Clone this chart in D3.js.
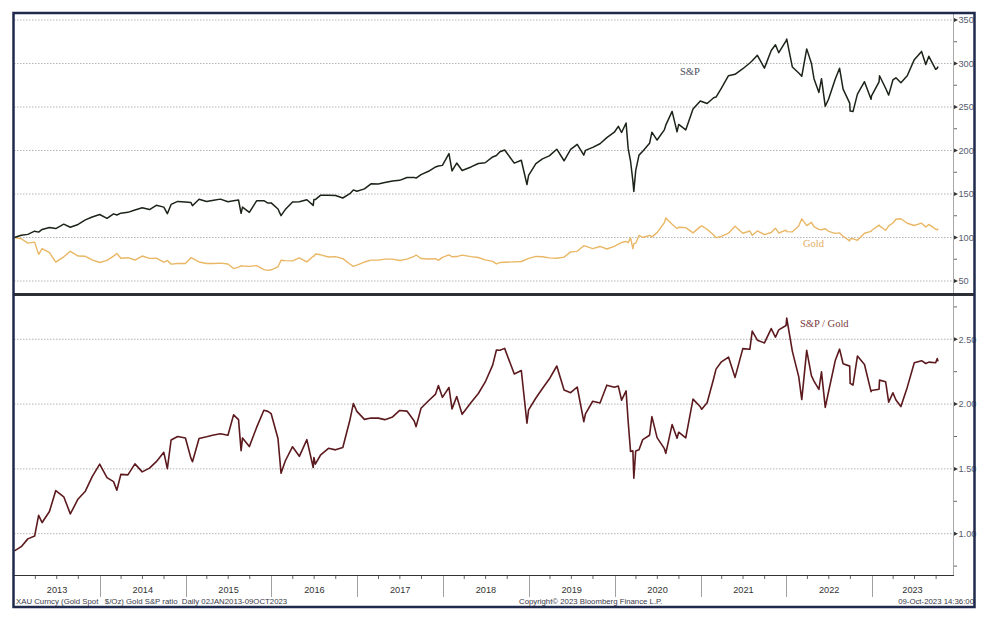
<!DOCTYPE html>
<html><head><meta charset="utf-8">
<script src="https://cdn.jsdelivr.net/npm/d3@7"></script>
<style>html,body{margin:0;padding:0;background:#fff;}svg{display:block;}</style>
</head><body>
<script>
const dates = [
"2013-01-02","2013-01-31","2013-02-28","2013-03-29","2013-04-15","2013-04-30","2013-05-31","2013-06-27","2013-07-31","2013-08-28","2013-09-30","2013-10-31","2013-11-29","2013-12-31",
"2014-01-31","2014-02-28","2014-03-14","2014-03-31","2014-04-30","2014-05-30","2014-06-30","2014-07-31","2014-08-29","2014-09-30","2014-10-15","2014-10-31","2014-11-28","2014-12-31",
"2015-01-23","2015-01-30","2015-02-27","2015-03-31","2015-04-30","2015-05-29","2015-06-30","2015-07-24","2015-08-14","2015-08-25","2015-08-31","2015-09-29","2015-10-30","2015-11-30","2015-12-17","2015-12-31",
"2016-01-29","2016-02-11","2016-02-29","2016-03-31","2016-04-29","2016-05-31","2016-06-27","2016-06-30","2016-07-06","2016-07-29","2016-08-31","2016-09-30","2016-10-31","2016-11-30","2016-12-15","2016-12-30",
"2017-01-31","2017-02-28","2017-03-31","2017-04-28","2017-05-31","2017-06-30","2017-07-31","2017-08-31","2017-09-08","2017-09-29","2017-10-31","2017-11-30","2017-12-12","2017-12-29",
"2018-01-26","2018-02-08","2018-02-28","2018-03-23","2018-04-30","2018-05-31","2018-06-29","2018-07-31","2018-08-16","2018-08-31","2018-09-20","2018-10-31","2018-11-30","2018-12-24","2018-12-31",
"2019-01-31","2019-02-28","2019-03-29","2019-04-30","2019-05-31","2019-06-28","2019-07-26","2019-08-23","2019-08-30","2019-09-30","2019-10-31","2019-11-29","2019-12-31",
"2020-01-17","2020-01-31","2020-02-19","2020-02-28","2020-03-09","2020-03-19","2020-03-23","2020-03-31","2020-04-14","2020-04-30","2020-05-29","2020-06-08","2020-06-30","2020-07-31","2020-08-06","2020-09-02","2020-09-23","2020-09-30","2020-10-30","2020-11-30","2020-12-31",
"2021-01-06","2021-01-29","2021-02-26","2021-03-08","2021-03-31","2021-04-30","2021-05-28","2021-06-30","2021-07-30","2021-08-09","2021-08-31","2021-09-30","2021-10-29","2021-11-16","2021-11-30","2021-12-31",
"2022-01-03","2022-01-27","2022-02-23","2022-03-08","2022-03-29","2022-04-18","2022-04-29","2022-05-20","2022-05-31","2022-06-16","2022-06-30","2022-07-29","2022-08-16","2022-08-31","2022-09-28","2022-09-30","2022-10-12","2022-10-31","2022-11-30","2022-12-28","2022-12-30",
"2023-01-31","2023-02-02","2023-02-28","2023-03-13","2023-03-31","2023-04-13","2023-05-04","2023-05-31","2023-06-30","2023-07-31","2023-08-18","2023-08-31","2023-09-29","2023-10-06","2023-10-09"
];
const spx = [
100.0,102.5,103.6,107.3,106.2,109.3,111.6,110.3,115.3,111.8,115.0,120.2,123.5,126.4,
122.0,127.2,125.9,128.0,128.9,131.6,134.1,132.1,137.0,134.9,127.4,138.0,141.5,140.8,
140.3,136.5,144.0,141.4,142.7,144.1,141.1,142.3,143.1,127.8,134.9,128.9,142.2,142.3,139.6,139.8,
132.7,125.1,132.1,140.9,141.2,143.4,136.9,143.6,143.6,148.7,148.5,148.3,145.4,150.4,154.7,153.1,
155.9,161.7,161.6,163.1,165.0,165.7,168.9,169.1,168.3,172.3,176.1,181.1,182.2,182.9,
196.5,176.5,185.6,177.0,181.1,185.0,185.9,192.6,194.3,198.5,200.5,185.5,188.8,160.8,171.5,
185.0,190.4,193.8,201.5,188.2,201.2,207.0,194.7,200.1,203.6,207.8,214.8,221.0,
227.8,220.7,231.6,202.1,187.9,164.8,153.0,176.8,194.7,199.2,208.2,221.1,212.0,223.7,229.1,244.9,221.4,230.0,223.7,247.7,256.9,
256.4,254.0,260.7,261.4,271.8,286.0,287.6,294.0,300.6,303.1,309.4,294.7,315.0,321.5,312.4,326.0,
328.1,295.9,289.0,285.3,316.8,300.4,282.6,266.8,282.6,250.8,258.9,282.5,294.5,270.5,254.4,245.3,244.7,264.8,279.1,258.8,262.7,
278.9,285.9,271.5,263.7,281.1,283.6,277.8,285.9,304.4,313.9,298.9,308.3,293.3,294.7,296.6
];
const gold = [
100.0,98.6,93.5,94.7,80.6,87.3,82.6,71.7,77.8,84.1,78.7,78.4,74.3,71.3,
73.7,78.6,81.7,76.1,76.8,74.1,78.7,76.0,76.3,71.8,73.5,69.4,70.1,70.2,
76.7,76.1,71.9,70.1,70.2,70.5,69.5,64.3,66.0,67.5,67.2,66.8,67.7,63.1,62.2,62.9,
66.3,73.9,73.4,73.1,76.6,72.0,78.5,78.4,81.0,80.1,77.6,78.0,75.7,69.5,66.9,68.3,
71.8,74.0,74.0,75.2,75.2,73.6,75.2,78.4,79.9,75.9,75.3,75.6,73.7,77.2,
80.0,77.9,78.1,79.8,78.0,77.0,74.3,72.6,69.7,71.2,71.5,72.0,72.4,75.2,76.0,
78.3,77.8,76.6,76.1,77.4,83.5,84.1,90.5,90.1,87.3,89.7,86.8,89.9,
92.3,94.2,95.5,94.0,99.6,87.1,92.9,93.5,102.4,100.0,102.5,100.7,105.6,117.1,122.5,115.2,110.4,111.8,111.4,105.3,112.5,
113.3,109.5,102.8,99.8,101.2,104.9,113.0,104.9,107.5,102.5,107.5,103.3,105.7,110.7,105.2,108.4,
106.8,106.5,113.2,121.5,113.7,117.3,112.4,109.4,108.9,110.1,107.1,104.7,105.3,101.4,96.1,98.4,98.8,96.8,104.9,107.0,108.1,
114.3,113.4,108.3,113.4,116.7,120.9,121.5,116.4,113.8,116.5,112.0,115.0,109.6,108.7,110.3
];
const ratio = [
0.867,0.900,0.960,0.982,1.142,1.086,1.171,1.333,1.285,1.153,1.268,1.328,1.441,1.537,
1.433,1.402,1.335,1.458,1.454,1.539,1.477,1.506,1.556,1.628,1.502,1.723,1.750,1.739,
1.585,1.555,1.735,1.748,1.762,1.771,1.760,1.917,1.880,1.641,1.739,1.672,1.820,1.953,1.944,1.926,
1.735,1.467,1.561,1.671,1.597,1.726,1.511,1.588,1.537,1.609,1.659,1.647,1.665,1.875,2.005,1.944,
1.882,1.893,1.892,1.880,1.901,1.951,1.946,1.870,1.826,1.968,2.026,2.077,2.143,2.052,
2.128,1.963,2.059,1.921,2.012,2.082,2.169,2.301,2.417,2.416,2.430,2.232,2.259,1.853,1.956,
2.047,2.120,2.193,2.294,2.109,2.088,2.132,1.864,1.925,2.022,2.008,2.146,2.130,
2.139,2.030,2.102,1.864,1.635,1.639,1.428,1.639,1.648,1.726,1.760,1.903,1.741,1.656,1.620,1.842,1.737,1.783,1.740,2.038,1.979,
1.960,2.011,2.198,2.270,2.326,2.363,2.206,2.428,2.423,2.563,2.493,2.472,2.583,2.516,2.573,2.606,
2.664,2.407,2.212,2.035,2.415,2.219,2.178,2.113,2.249,1.975,2.095,2.339,2.424,2.311,2.293,2.160,2.147,2.371,2.306,2.096,2.105,
2.115,2.185,2.173,2.015,2.087,2.032,1.981,2.129,2.319,2.335,2.313,2.324,2.319,2.351,2.330
];
const topTicks = [50,100,150,200,250,300,350];
const bottomTicks = [1.00,1.50,2.00,2.50];
const years = [2013,2014,2015,2016,2017,2018,2019,2020,2021,2022,2023];
const footerLeft = "XAU Curncy (Gold Spot   $/Oz) Gold S&P ratio  Daily 02JAN2013-09OCT2023";
const footerMid = "Copyright\u00A9 2023 Bloomberg Finance L.P.";
const footerRight = "09-Oct-2023 14:36:00";

const W = 990, H = 624;
const svg = d3.select("body").append("svg").attr("width", W).attr("height", H);
const parse = d3.timeParse("%Y-%m-%d");
const dd = dates.map(parse);

const plotL = 14, plotR = 953;
const x = d3.scaleTime().domain([new Date(2013,0,1), new Date(2023,0,1)]).range([14.2, 872]);
const yTop = d3.scaleLinear().domain([50, 350]).range([281, 20]);
const yBot = d3.scaleLinear().domain([1.0, 2.5]).range([533.7, 339.3]);

const defs = svg.append("defs");
defs.append("clipPath").attr("id","cTop").append("rect").attr("x",plotL).attr("y",14).attr("width",plotR-plotL).attr("height",279);
defs.append("clipPath").attr("id","cBot").append("rect").attr("x",plotL).attr("y",296).attr("width",plotR-plotL).attr("height",279);

// gridlines
const grid = svg.append("g");
grid.selectAll("line.gt").data(topTicks).join("line")
  .attr("x1",plotL).attr("x2",plotR).attr("y1",d=>yTop(d)).attr("y2",d=>yTop(d))
  .attr("stroke","#b5b5b5").attr("stroke-width",1).attr("stroke-dasharray","1.5,1.5");
grid.selectAll("line.gb").data(bottomTicks).join("line")
  .attr("x1",plotL).attr("x2",plotR).attr("y1",d=>yBot(d)).attr("y2",d=>yBot(d))
  .attr("stroke","#b5b5b5").attr("stroke-width",1).attr("stroke-dasharray","1.5,1.5");

// right axis line
svg.append("line").attr("x1",plotR+0.5).attr("x2",plotR+0.5).attr("y1",14).attr("y2",575)
  .attr("stroke","#a8a8a8").attr("stroke-width",1);

// y ticks
function yAxis(ticks, scale, step, fmt){
  const g = svg.append("g");
  const minors = [];
  for (let i=0;i<ticks.length;i++){ minors.push(ticks[i]-step/2); }
  minors.push(ticks[ticks.length-1]+step/2);
  g.selectAll("line.mn").data(minors.filter(v=>scale(v)>15 && scale(v)<606 && !(scale===yTop && scale(v)>292))).join("line")
    .attr("x1",plotR+1).attr("x2",plotR+4).attr("y1",d=>scale(d)).attr("y2",d=>scale(d))
    .attr("stroke","#666").attr("stroke-width",1);
  g.selectAll("path.tk").data(ticks).join("path")
    .attr("d",d=>{const y=scale(d);return `M${plotR+1},${y-2} L${plotR+5},${y} L${plotR+1},${y+2} Z`;})
    .attr("fill","#333");
  g.selectAll("text").data(ticks).join("text")
    .attr("x",plotR+5.5).attr("y",d=>scale(d)+3.2)
    .attr("font-family","Liberation Sans, Arial, sans-serif").attr("font-size",9.2)
    .attr("fill","#555b6e").text(fmt);
}
yAxis(topTicks, yTop, 50, d=>d3.format("d")(d));
yAxis(bottomTicks, yBot, 0.5, d=>d3.format(".2f")(d));

// lines
const lineTop = (arr)=> d3.line().x((d,i)=>x(dd[i])).y(d=>yTop(d))(arr);
svg.append("path").attr("clip-path","url(#cTop)").attr("d", lineTop(gold))
  .attr("fill","none").attr("stroke","#e9b765").attr("stroke-width",1.4).attr("stroke-linejoin","round");
svg.append("path").attr("clip-path","url(#cTop)").attr("d", lineTop(spx))
  .attr("fill","none").attr("stroke","#1c2419").attr("stroke-width",1.5).attr("stroke-linejoin","round");
svg.append("path").attr("clip-path","url(#cBot)")
  .attr("d", d3.line().x((d,i)=>x(dd[i])).y(d=>yBot(d))(ratio))
  .attr("fill","none").attr("stroke","#5c1a1e").attr("stroke-width",1.6).attr("stroke-linejoin","round");

// series labels
const lab = (t,xx,yy,c)=>svg.append("text").attr("x",xx).attr("y",yy).text(t)
  .attr("font-family","Liberation Serif, Times New Roman, serif").attr("font-size",10.5).attr("fill",c);
lab("S&P",680,75,"#4a4d60");
lab("Gold",803,247,"#e3ad5d");
lab("S&P / Gold",800,327,"#7a3b3e");

// x axis
svg.append("line").attr("x1",plotL).attr("x2",plotR+1).attr("y1",575.5).attr("y2",575.5)
  .attr("stroke","#333").attr("stroke-width",1);
const xa = svg.append("g");
const quarters = d3.timeMonth.every(3).range(new Date(2013,0,1), new Date(2023,11,1)).filter(d=>d.getMonth()!==0);
xa.selectAll("line.q").data(quarters).join("line")
  .attr("x1",d=>x(d)).attr("x2",d=>x(d)).attr("y1",576).attr("y2",579)
  .attr("stroke","#666").attr("stroke-width",1);
const bounds = years.slice(1).map(y=>new Date(y,0,1));
xa.selectAll("line.y").data(bounds).join("line")
  .attr("x1",d=>Math.round(x(d))+0.5).attr("x2",d=>Math.round(x(d))+0.5).attr("y1",576).attr("y2",597)
  .attr("stroke","#a0a0a0").attr("stroke-width",1);
xa.selectAll("text").data(years).join("text")
  .attr("x",d=>{const a=x(new Date(d,0,1)); const b=Math.min(x(new Date(d+1,0,1)),plotR); return (Math.max(a,plotL)+b)/2;})
  .attr("y",593).attr("text-anchor","middle")
  .attr("font-family","Liberation Sans, Arial, sans-serif").attr("font-size",9.2).attr("fill","#333").text(d=>d);

// footer
const ft = (t,xx,anchor)=>svg.append("text").attr("x",xx).attr("y",603.8).attr("text-anchor",anchor)
  .style("white-space","pre")
  .attr("font-family","Liberation Sans, Arial, sans-serif").attr("font-size",7.8).attr("fill","#3a3a48").text(t);
ft(footerLeft,16,"start");
ft(footerMid,519,"start");
ft(footerRight,974,"end");

// divider and frame
svg.append("line").attr("x1",13).attr("x2",975).attr("y1",294.5).attr("y2",294.5)
  .attr("stroke","#2d2f35").attr("stroke-width",3);
svg.append("rect").attr("x",13.5).attr("y",13).attr("width",961).attr("height",594)
  .attr("fill","none").attr("stroke","#1f2a4c").attr("stroke-width",2.5);
</script>
</body></html>
